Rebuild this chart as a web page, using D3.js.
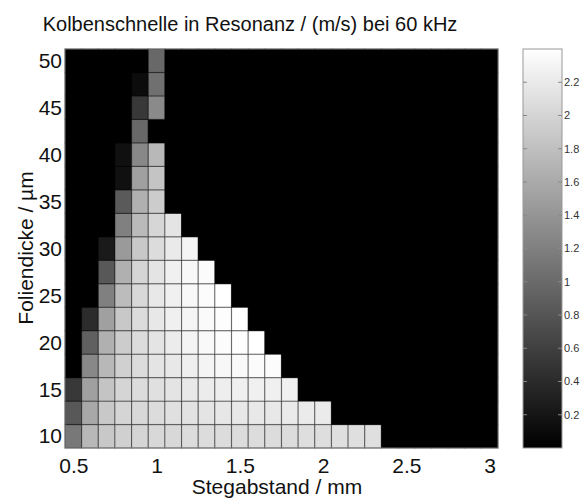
<!DOCTYPE html>
<html>
<head>
<meta charset="utf-8">
<script src="https://cdn.jsdelivr.net/npm/d3@7"></script>
<style>
	body { margin: 0; background: #fff; }
	text { font-family: "Liberation Sans", Arial, sans-serif; }
</style>
</head>
<body>
<svg id="chart" width="586" height="498"></svg>
<script>
// DATA

// Stegabstand / mm (columns) and Foliendicke / µm (rows)
const stegabstand = d3.range(26).map(i => +(0.5 + i * 0.1).toFixed(1));
const foliendicke = d3.range(17).map(j => 10 + j * 2.5);

// Tick labels
const xTicks = [0.5, 1, 1.5, 2, 2.5, 3];
const yTicks = [10, 15, 20, 25, 30, 35, 40, 45, 50];
const cbTicks = [0.2, 0.4, 0.6, 0.8, 1, 1.2, 1.4, 1.6, 1.8, 2, 2.2];

// Kolbenschnelle / (m/s), one row per Foliendicke, starting at 0.5 mm
// Missing values at the end of a row are 0
const schnelle = [
	[1.13, 1.73, 1.88, 1.96, 2.00, 2.03, 2.03, 2.07, 2.07, 2.07, 2.07, 2.07, 2.07, 2.07, 2.09, 2.09, 2.10, 2.10, 2.10], // 10
	[0.83, 1.58, 1.88, 2.00, 2.03, 2.07, 2.11, 2.13, 2.15, 2.17, 2.18, 2.18, 2.18, 2.20, 2.21, 2.21], // 12.5
	[0.53, 1.51, 1.84, 2.00, 2.07, 2.11, 2.15, 2.19, 2.22, 2.24, 2.26, 2.26, 2.26, 2.26], // 15
	[0, 1.28, 1.73, 1.96, 2.07, 2.15, 2.18, 2.25, 2.30, 2.32, 2.34, 2.36, 2.37], // 17.5
	[0, 0.90, 1.66, 1.92, 2.07, 2.15, 2.22, 2.30, 2.34, 2.37, 2.39, 2.40], // 20
	[0, 0.41, 1.51, 1.88, 2.07, 2.18, 2.26, 2.31, 2.35, 2.38, 2.40], // 22.5
	[0, 0, 1.20, 1.77, 2.03, 2.18, 2.26, 2.33, 2.37, 2.40], // 25
	[0, 0, 0.83, 1.66, 2.00, 2.15, 2.26, 2.33, 2.36], // 27.5
	[0, 0, 0.24, 1.45, 1.88, 2.07, 2.20, 2.30], // 30
	[0, 0, 0, 1.20, 1.75, 2.01, 2.15], // 32.5
	[0, 0, 0, 0.85, 1.66, 1.92], // 35
	[0, 0, 0, 0.15, 1.51, 1.84], // 37.5
	[0, 0, 0, 0.15, 1.28, 1.73], // 40
	[0, 0, 0, 0, 0.98, 0], // 42.5
	[0, 0, 0, 0, 0.53, 1.30], // 45
	[0, 0, 0, 0, 0.11, 1.05], // 47.5
	[0, 0, 0, 0, 0, 0.98] // 50
];

// Colour range of the bar
const colorMax = 2.4;

// DRAWING

const svg = d3.select("#chart");

const plotLeft = 65, plotRight = 498, plotTop = 49, plotBottom = 448;

let x = d3.scaleLinear().domain([0.45, 3.05]).range([plotLeft, plotRight]);
let y = d3.scaleLinear().domain([8.75, 51.25]).range([plotBottom, plotTop]);
let gray = d3.scaleLinear().domain([0, colorMax]).range(["#000", "#fff"]);

// Build cell list from the rows
let cells = [];
foliendicke.forEach((f, j) => {
	stegabstand.forEach((s, i) => {
		const v = schnelle[j][i] || 0;
		cells.push({ s: s, f: f, v: v });
	});
});

const cw = x(0.55) - x(0.45);
const ch = y(8.75) - y(11.25);

svg.append("rect")
	.attr("x", plotLeft).attr("y", plotTop)
	.attr("width", plotRight - plotLeft).attr("height", plotBottom - plotTop)
	.attr("fill", "#000");

svg.append("g")
	.selectAll("rect")
	.data(cells)
	.enter()
	.append("rect")
	.attr("x", d => x(d.s - 0.05))
	.attr("y", d => y(d.f + 1.25))
	.attr("width", cw)
	.attr("height", ch)
	.attr("fill", d => gray(d.v))
	.attr("stroke", "#000")
	.attr("stroke-opacity", 0.35)
	.attr("stroke-width", 1.2);

// Axes box
svg.append("rect")
	.attr("x", plotLeft).attr("y", plotTop)
	.attr("width", plotRight - plotLeft).attr("height", plotBottom - plotTop)
	.attr("fill", "none")
	.attr("stroke", "#777")
	.attr("stroke-width", 1);

// Axes, labels only
let xAxis = svg.append("g")
	.attr("transform", "translate(0," + plotBottom + ")")
	.call(d3.axisBottom(x).tickValues(xTicks).tickSize(0).tickPadding(10).tickFormat(d3.format("")));
let yAxis = svg.append("g")
	.attr("transform", "translate(" + plotLeft + ",0)")
	.call(d3.axisLeft(y).tickValues(yTicks).tickSize(0).tickPadding(3));

[xAxis, yAxis].forEach(a => {
	a.select(".domain").remove();
	a.selectAll("text")
		.attr("font-size", 21)
		.attr("fill", "#111")
		.style("font-family", "'Liberation Sans', Arial, sans-serif");
});

// Title and axis titles
svg.append("text")
	.attr("x", 250).attr("y", 31)
	.attr("text-anchor", "middle")
	.attr("font-size", 20)
	.attr("fill", "#111")
	.text("Kolbenschnelle in Resonanz / (m/s) bei 60 kHz");

svg.append("text")
	.attr("x", 277).attr("y", 494)
	.attr("text-anchor", "middle")
	.attr("font-size", 21)
	.attr("fill", "#111")
	.text("Stegabstand / mm");

svg.append("text")
	.attr("transform", "translate(33,248) rotate(-90)")
	.attr("text-anchor", "middle")
	.attr("font-size", 21)
	.attr("fill", "#111")
	.text("Foliendicke / µm");

// Colorbar
const cbLeft = 523, cbRight = 562;
let cbScale = d3.scaleLinear().domain([0, colorMax]).range([plotBottom, plotTop]);

let grad = svg.append("defs")
	.append("linearGradient")
	.attr("id", "cbgrad")
	.attr("x1", 0).attr("y1", 1).attr("x2", 0).attr("y2", 0);
grad.append("stop").attr("offset", 0).attr("stop-color", gray(0));
grad.append("stop").attr("offset", 1).attr("stop-color", gray(colorMax));

svg.append("rect")
	.attr("x", cbLeft).attr("y", plotTop)
	.attr("width", cbRight - cbLeft).attr("height", plotBottom - plotTop)
	.attr("fill", "url(#cbgrad)")
	.attr("stroke", "#999")
	.attr("stroke-width", 1);

let cb = svg.append("g");
cb.selectAll(".tl")
	.data(cbTicks)
	.enter()
	.append("line")
	.attr("x1", cbLeft).attr("x2", cbLeft + 4)
	.attr("y1", d => cbScale(d)).attr("y2", d => cbScale(d))
	.attr("stroke", "#888");
cb.selectAll(".tr")
	.data(cbTicks)
	.enter()
	.append("line")
	.attr("x1", cbRight - 4).attr("x2", cbRight)
	.attr("y1", d => cbScale(d)).attr("y2", d => cbScale(d))
	.attr("stroke", "#888");
cb.selectAll("text")
	.data(cbTicks)
	.enter()
	.append("text")
	.attr("x", cbRight + 2)
	.attr("y", d => cbScale(d))
	.attr("dy", "0.35em")
	.attr("font-size", 11)
	.attr("fill", "#333")
	.text(d => d3.format("")(d));
</script>
</body>
</html>
